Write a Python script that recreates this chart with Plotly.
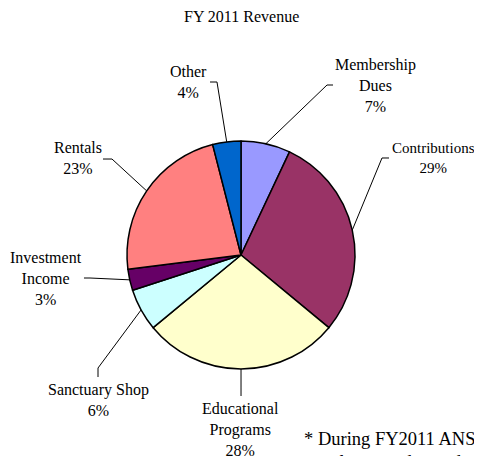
import math
import plotly.graph_objects as go

# ---- data ----
categories = ["Membership Dues", "Contributions", "Educational Programs",
              "Sanctuary Shop", "Investment Income", "Rentals", "Other"]
label_text = ["Membership<br>Dues", "Contributions", "Educational<br>Programs",
              "Sanctuary Shop", "Investment<br>Income", "Rentals", "Other"]
percent_values = [7, 29, 28, 6, 3, 23, 4]
slice_colors = ["#9999FF", "#993366", "#FFFFCC", "#CCFFFF", "#660066", "#FF8080", "#0066CC"]

title_text = "FY 2011 Revenue"
footnote_lines = ["* During FY2011 ANS received", "volunteers donated over 6,800 hours"]

# ---- layout (pixels in the 482x456 window; page body has an 8px margin) ----
OFF = 8
W, H = 482 - OFF, 456 - OFF
CX, CY, R = 241, 255, 114
FONT = "Liberation Serif, Times New Roman, serif"

# label centre (px), font size, and leader elbow / end (px)
label_pos = [(375, 86), (433, 158), (240, 429), (98, 400), (46, 278), (78, 158), (188, 82)]
label_size = [16, 15, 16, 16, 16, 16, 16]
leader_elbow = [(327, 85), (382, 158), (241, 388), (98, 368), (90, 278), (112, 159), (217, 82)]
leader_end = [(333, 85), (389, 158), (241, 396), (98, 377), (84, 278), (103, 159), (210, 82)]


def px(x):
    return (x - OFF) / W


def py(y):
    return 1 - (y - OFF) / H


fig = go.Figure(go.Pie(
    labels=categories,
    values=percent_values,
    sort=False,
    direction="clockwise",
    rotation=0,
    textinfo="none",
    hoverinfo="label+percent",
    marker=dict(colors=slice_colors, line=dict(color="black", width=1.5)),
    domain=dict(x=[px(CX - R), px(CX + R)], y=[py(CY + R), py(CY - R)]),
    showlegend=False,
))

total = sum(percent_values)
cum = 0
shapes = []
annotations = []
for i, v in enumerate(percent_values):
    mid = (cum + v / 2) / total * 2 * math.pi
    cum += v
    ex = CX + R * math.sin(mid)
    ey = CY - R * math.cos(mid)
    bx, by = leader_elbow[i]
    tx, ty = leader_end[i]
    path = "M {:.4f},{:.4f} L {:.4f},{:.4f} L {:.4f},{:.4f}".format(
        px(ex), py(ey), px(bx), py(by), px(tx), py(ty))
    shapes.append(dict(type="path", path=path, xref="paper", yref="paper",
                       line=dict(color="black", width=1)))
    lx, ly = label_pos[i]
    annotations.append(dict(
        text="{}<br>{}%".format(label_text[i], v),
        x=px(lx), y=py(ly), xref="paper", yref="paper",
        xanchor="center", yanchor="middle", showarrow=False,
        font=dict(family=FONT, size=label_size[i], color="black"), align="center"))

annotations.append(dict(text=title_text, x=px(241), y=py(17), xref="paper", yref="paper",
                        xanchor="center", yanchor="middle", showarrow=False,
                        font=dict(family=FONT, size=16, color="black")))
annotations.append(dict(text=footnote_lines[0], x=px(302), y=py(439), xref="paper", yref="paper",
                        xanchor="left", yanchor="middle", showarrow=False,
                        font=dict(family=FONT, size=18.5, color="black")))
annotations.append(dict(text=footnote_lines[1], x=px(319), y=py(462), xref="paper", yref="paper",
                        xanchor="left", yanchor="middle", showarrow=False,
                        font=dict(family=FONT, size=18.5, color="black")))

fig.update_layout(
    width=W, height=H,
    margin=dict(l=0, r=0, t=0, b=0),
    paper_bgcolor="white", plot_bgcolor="white",
    shapes=shapes, annotations=annotations,
)

fig.write_html("out.html")
